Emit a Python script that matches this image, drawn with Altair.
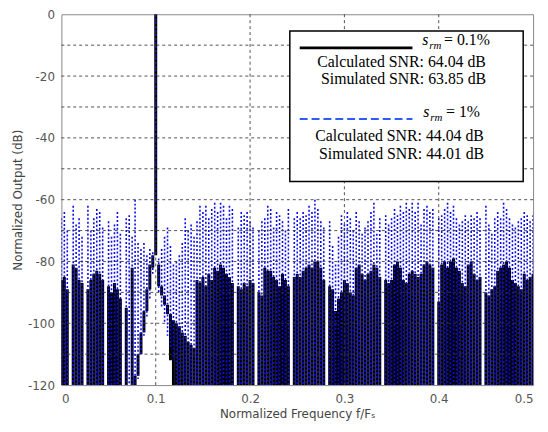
import altair as alt
import pandas as pd

# ---------------- data ----------------
freq = [round(i * 0.5 / 160, 6) for i in range(161)]  # FFT bins 0 .. 0.5

FLOOR = -125  # below the visible -120 floor (clipped)

# s_rm = 0.1 %  (black, solid) : upper value of each bin column
black_hi = [
    -86, -85, -89, -125, -81, -82, -86, -87, -125, -89, -86, -84, -83, -84, -86, -125,
    -88, -90, -87, -89, -92, -125, -95, -125, -82,
    -117, -110, -103, -96, -89, -81, -78, 0, -81, -88, -91, -94,
    -97, -99, -100, -101, -103, -104, -106, -107, -108,
    -86, -87, -85, -88, -84, -86, -82, -83, -81, -82, -84, -85, -87, -125, -88, -89,
    -87, -88, -86, -87, -125, -90, -91, -82, -83, -83, -85, -86, -88, -84, -86, -88, -125, -85,
    -84, -85, -83, -82, -81, -82, -80, -80, -82, -86,
    -125, -88, -89, -96, -92, -90, -86, -87, -90, -91,
    -82, -81, -84, -86, -84, -83, -81, -82, -85, -125,
    -86, -87, -86, -81, -80, -82, -86, -87, -84, -83,
    -84, -85, -84, -81, -80, -81, -82, -125, -93, -81,
    -80, -82, -80, -79, -82, -83, -87, -88, -81, -80,
    -84, -86, -85, -125, -90, -91, -89, -88, -83, -82,
    -81, -80, -82, -86, -87, -88, -89, -84, -86, -85, -84,
]
# lower value of each bin column (skirt around the tone at 0.1)
black_lo = [FLOOR] * 26 + [
    -117, -110, -103, -96, -89, -82, -78, -88, -91, -94, -97, -112,
] + [FLOOR] * 123

# s_rm = 1 %  (blue, dashed)
blue_hi = [
    -66, -64, -70, -125, -62, -68, -66, -72, -125, -62, -70, -66, -63, -64, -69, -125,
    -67, -72, -68, -64, -71, -125, -66, -65, -72,
    -60, -74, -76, -74, -78, -76, -77, 0, -79, -76, -72, -69, -75, -81, -80, -78, -74,
    -66, -70, -68, -72,
    -67, -62, -64, -62, -66, -63, -61, -64, -61, -62, -66, -62, -63, -125, -69, -64,
    -65, -64, -67, -69, -125, -70, -67, -66, -62, -63, -69, -64, -65, -67, -70, -63, -125, -66,
    -64, -66, -64, -65, -62, -64, -60, -63, -67, -69,
    -125, -67, -75, -81, -72, -65, -68, -64, -66, -70,
    -64, -67, -71, -69, -67, -64, -61, -71, -66, -125,
    -65, -68, -66, -63, -65, -62, -64, -61, -63, -61,
    -64, -61, -68, -63, -62, -64, -63, -125, -66, -65,
    -63, -61, -64, -62, -66, -68, -67, -65, -67, -65,
    -66, -64, -66, -125, -62, -68, -71, -66, -64, -66,
    -61, -63, -66, -68, -69, -67, -66, -64, -65, -67, -65,
]
blue_lo = [FLOOR] * 26 + [
    -118, -110, -104, -98, -92, -84, -78, -90, -95, -100, -104, -108, -112,
] + [FLOOR] * 122

x_ticks = [0, 0.1, 0.2, 0.3, 0.4, 0.5]
y_ticks = [-120, -100, -80, -60, -40, -20, 0]
x_grid = [0.1, 0.2, 0.3, 0.4]
y_grid = [-110, -100, -90, -80, -70, -60, -50, -40, -30, -20, -10]

legend_lines = [
    ("Calculated SNR: 64.04 dB", "Simulated SNR: 63.85 dB", "= 0.1%"),
    ("Calculated SNR: 44.04 dB", "Simulated SNR: 44.01 dB", "= 1%"),
]

# ---------------- chart ----------------
df = pd.DataFrame({"f": freq, "black_hi": black_hi, "black_lo": black_lo,
                   "blue_hi": blue_hi, "blue_lo": blue_lo})
one = pd.DataFrame({"k": [0]})

xs = alt.Scale(domain=[0, 0.5], nice=False, zero=False)
ys = alt.Scale(domain=[-120, 0], nice=False, zero=False)

AX_FONT = "DejaVu Sans"

x_axis = alt.Axis(
    values=x_ticks, grid=False, domain=False, ticks=False,
    labelExpr="datum.value == 0 ? '0' : format(datum.value, '.1f')",
    labelFont=AX_FONT, labelFontSize=12, labelColor="#555", labelPadding=9,
    title="Normalized Frequency f/F\u209b", titleFont=AX_FONT, titleFontSize=12,
    titleFontWeight="normal", titleColor="#444", titlePadding=4)
y_axis = alt.Axis(
    values=y_ticks, grid=False, domain=False, ticks=False,
    labelExpr="datum.value < 0 ? '-' + abs(datum.value) : '0'",
    labelFont=AX_FONT, labelFontSize=12, labelColor="#555", labelPadding=7,
    title="Normalized Output (dB)", titleFont=AX_FONT, titleFontSize=12,
    titleFontWeight="normal", titleColor="#444", titlePadding=3)

black = alt.Chart(df).mark_rule(color="black", strokeWidth=3, clip=True).encode(
    x=alt.X("f:Q", scale=xs, axis=x_axis),
    y=alt.Y("black_hi:Q", scale=ys, axis=y_axis),
    y2="black_lo:Q",
)

blue = alt.Chart(df).mark_rule(color="#0a0af0", strokeWidth=1.6, strokeDash=[2, 2],
                               clip=True).encode(
    x=alt.X("f:Q", scale=xs, axis=x_axis),
    y=alt.Y("blue_hi:Q", scale=ys, axis=y_axis),
    y2="blue_lo:Q",
)

gx = alt.Chart(pd.DataFrame({"g": x_grid})).mark_rule(
    color="#333", strokeWidth=1, strokeDash=[3, 3], opacity=0.85).encode(
    x=alt.X("g:Q", scale=xs, axis=x_axis))
gy = alt.Chart(pd.DataFrame({"g": y_grid})).mark_rule(
    color="#333", strokeWidth=1, strokeDash=[3, 3], opacity=0.85).encode(
    y=alt.Y("g:Q", scale=ys, axis=y_axis))

box = alt.Chart(one).mark_rect(fill="white", stroke="black", strokeWidth=1.5).encode(
    x=alt.value(231), x2=alt.value(467), y=alt.value(17), y2=alt.value(169))

leg_black = alt.Chart(one).mark_rule(color="black", strokeWidth=3).encode(
    x=alt.value(241), x2=alt.value(355), y=alt.value(34))
leg_blue = alt.Chart(one).mark_rule(color="#2a5cff", strokeWidth=2,
                                    strokeDash=[8, 4]).encode(
    x=alt.value(241), x2=alt.value(355), y=alt.value(106))


def txt(s, x, y, size=16, style="normal", align="center"):
    return alt.Chart(one).mark_text(
        font="Liberation Serif", fontSize=size, fontStyle=style, align=align,
        baseline="alphabetic", color="black").encode(
        x=alt.value(x), y=alt.value(y), text=alt.value(s))


texts = [
    txt("s", 365, 31, 16, "italic", "left"),
    txt("rm", 372, 35, 11, "italic", "left"),
    txt(legend_lines[0][2], 387, 31, 16, "normal", "left"),
    txt(legend_lines[0][0], 344, 53),
    txt(legend_lines[0][1], 346, 71),
    txt("s", 366, 104, 16, "italic", "left"),
    txt("rm", 373, 108, 11, "italic", "left"),
    txt(legend_lines[1][2], 389, 104, 16, "normal", "left"),
    txt(legend_lines[1][0], 342, 128),
    txt(legend_lines[1][1], 344, 146),
]

chart = alt.layer(black, blue, gx, gy, box, leg_black, leg_blue, *texts).properties(
    width=477, height=375,
    autosize=alt.AutoSizeParams(type="none"),
    padding={"left": 54, "top": 4, "right": 7, "bottom": 36},
).configure_view(stroke="#888", strokeWidth=1)

chart.save("out.html", embed_options={"renderer": "svg", "actions": False})
